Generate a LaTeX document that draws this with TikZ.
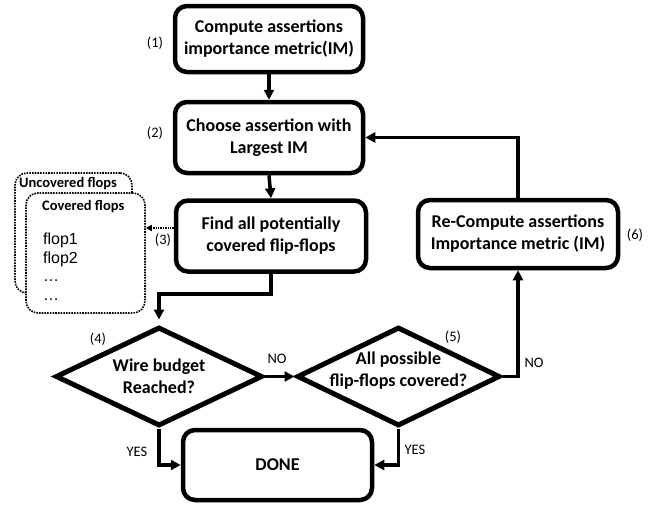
\documentclass[tikz,border=0pt]{standalone}
\usepackage{fontspec}
\setmainfont{Carlito}
\newfontfamily\flopfont{Liberation Sans}
\usetikzlibrary{arrows.meta,shapes.geometric,calc}
\begin{document}
\begin{tikzpicture}[x=1pt,y=-1pt,
  stepbox/.style={draw, line width=4.5pt, rounded corners=12pt, fill=white, align=center,
    font=\bfseries\fontsize{18}{22}\selectfont, inner sep=0pt},
  decision/.style={draw, diamond, line width=5pt, inner sep=0pt, line join=miter},
  dtext/.style={align=center, font=\bfseries\fontsize{18}{22}\selectfont, inner sep=0pt},
  tag/.style={font=\fontsize{14.5}{17}\selectfont, inner sep=0pt},
  conn/.style={line width=3.5pt, -{Triangle[length=10pt,width=10pt]}},
  dotbox/.style={draw, line width=1.6pt, dash pattern=on 1.6pt off 1.1pt, rounded corners=12pt, fill=white},
  dotarrow/.style={line width=1.4pt, dash pattern=on 1.4pt off 1pt, -{Triangle[length=6pt,width=6pt]}},
]
\useasboundingbox (0,0) rectangle (656,504);

% process boxes
\node[stepbox, minimum width=188pt, minimum height=66pt] (b1) at (269,39)
  {Compute assertions\\importance metric(IM)};
\node[stepbox, minimum width=188pt, minimum height=71pt] (b2) at (269,137.5)
  {Choose assertion with\\Largest IM};
\node[stepbox, minimum width=190pt, minimum height=71pt] (b3) at (271,236)
  {Find all potentially\\covered flip-flops};
\node[stepbox, minimum width=200pt, minimum height=68pt] (b6) at (518,234)
  {Re-Compute assertions\\Importance metric (IM)};
\node[stepbox, minimum width=189pt, minimum height=70pt] (done) at (277.5,465)
  {DONE};

% decisions
\node[decision, minimum width=207pt, minimum height=99pt] (d1) at (159,376.5) {};
\node[dtext] (d1t) at (159,376.5) {Wire budget\\Reached?};
\node[decision, minimum width=203pt, minimum height=99pt] (d2) at (398.5,376.5) {};
\node[dtext] (d2t) at (398.5,371) {All possible\\flip-flops covered?};

% dotted lists
\node[dotbox, minimum width=117pt, minimum height=120pt] (unc) at (73.5,233) {};
\node[dotbox, minimum width=119pt, minimum height=120pt] (cov) at (85.5,253) {};
\node[anchor=west, inner sep=0pt, font=\bfseries\fontsize{14.5}{17}\selectfont] (unct) at (19,184) {Uncovered flops};
\node[anchor=west, inner sep=0pt, font=\bfseries\fontsize{14.5}{17}\selectfont] (covt) at (42,207) {Covered flops};
\node[anchor=north west, inner sep=0pt, align=left, font=\flopfont\fontsize{16}{18.5}\selectfont] (flops) at (43,233)
  {flop1\\flop2\\…\\…};

% step tags
\node[tag] (t1) at (155,43) {(1)};
\node[tag] (t2) at (155,133) {(2)};
\node[tag] (t3) at (163,240) {(3)};
\node[tag] (t4) at (98,339) {(4)};
\node[tag] (t5) at (453,337) {(5)};
\node[tag] (t6) at (635,235) {(6)};

% connectors
\draw[conn] (b1.south) -- (b2.north);
\draw[conn] (b2.south) -- (b3.north);
\draw[conn, shorten >=5pt] (b3.south) -- ++(0,20) -| (d1.north);
\draw[conn] (d1.east) -- (d2.west);
\draw[conn] (d1.south) |- (done.west);
\draw[conn] (d2.south) |- (done.east);
\draw[conn] (d2.east) -| (b6.south);
\draw[conn] (b6.north) |- (b2.east);
\coordinate (dp) at ([yshift=8pt]b3.west);
\draw[dotarrow] (dp) -- (dp -| cov.east);

% connector labels
\node[tag] (no1) at (277,359) {NO};
\node[tag] (no2) at (534,363) {NO};
\node[tag] (yes1) at (137,452) {YES};
\node[tag] (yes2) at (415,450) {YES};
\end{tikzpicture}
\end{document}
